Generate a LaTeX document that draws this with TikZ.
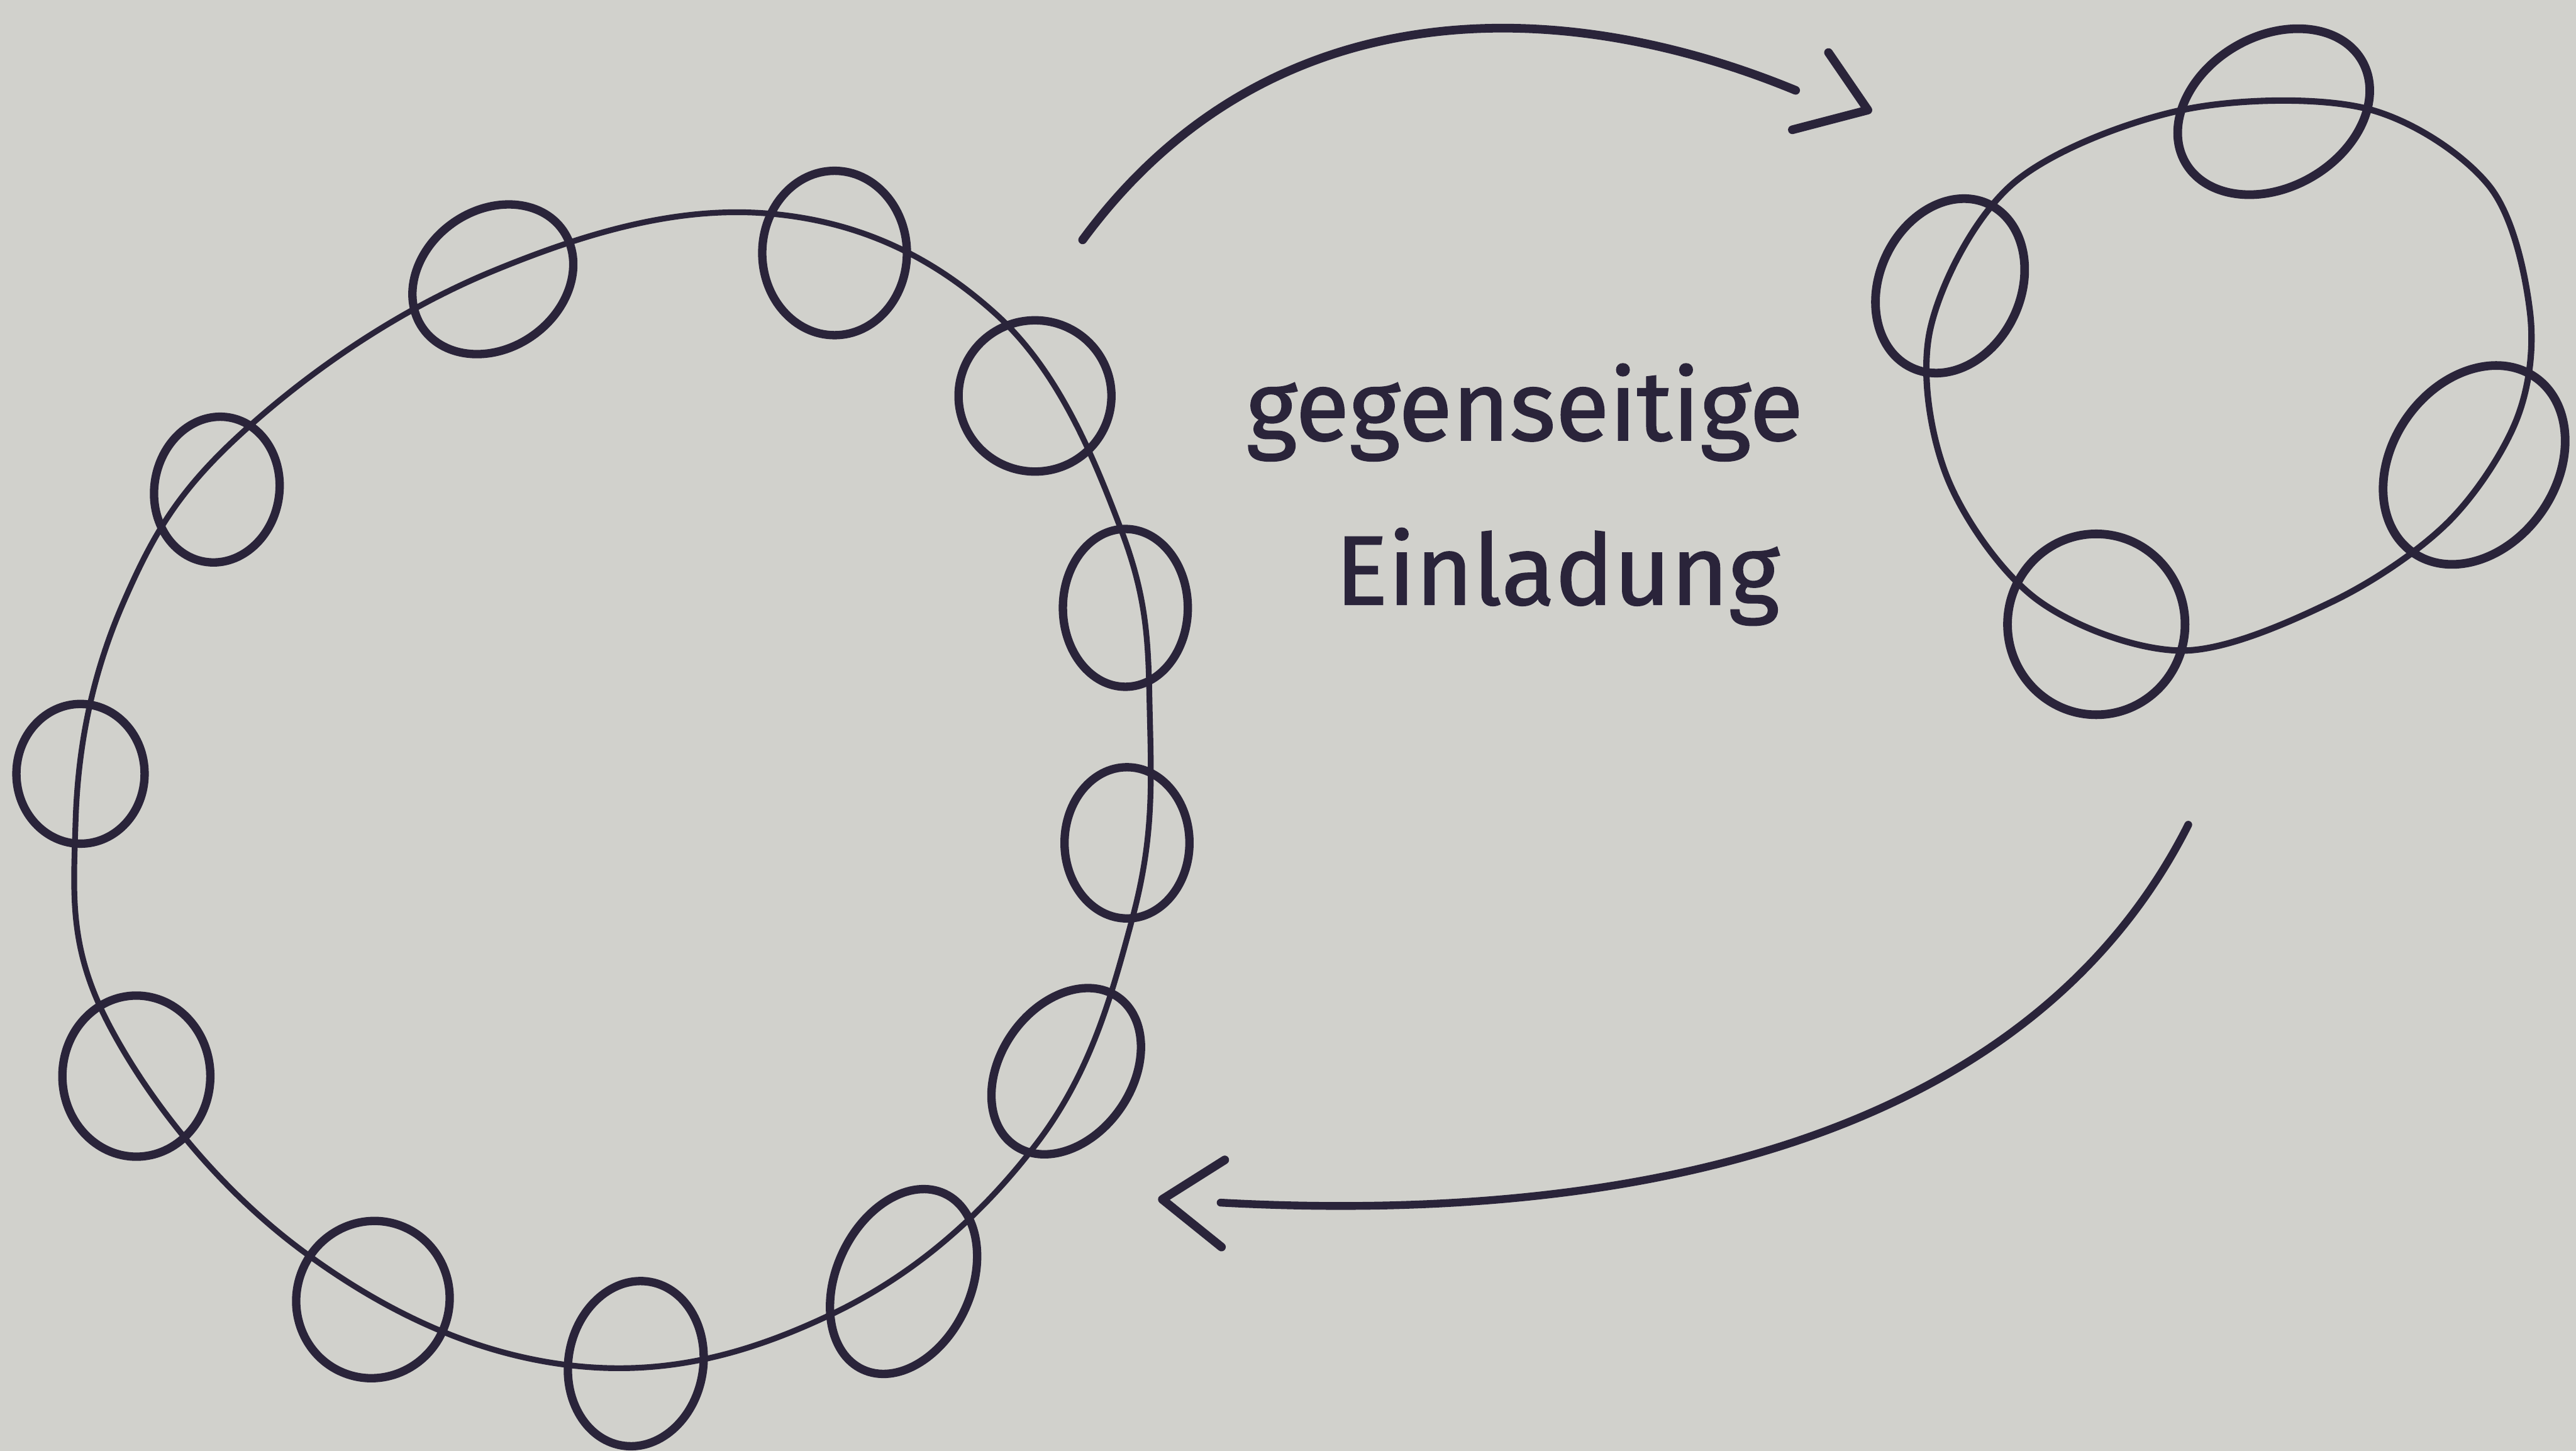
\documentclass[tikz,border=0pt]{standalone}
\usepackage{fontspec}
\setmainfont{Fira Sans}
\newfontfamily\handschrift{Fira Sans}[FakeBold=1.2]
\usetikzlibrary{shapes.geometric}
\definecolor{tinte}{RGB}{42,36,58}
\definecolor{papier}{RGB}{209,209,204}
\tikzset{
  person/.style={draw=tinte, ellipse, line width=1.45pt, inner sep=0pt},
  kreis/.style={draw=tinte, line width=1pt},
  pfeil/.style={draw=tinte, line width=1.5pt, line cap=round},
  spitze/.style={draw=tinte, line width=1.5pt, line cap=round, line join=round},
  schrift/.style={text=tinte, font=\handschrift\fontsize{17}{20}\selectfont, anchor=base, inner sep=0pt}
}
\begin{document}
\begin{tikzpicture}[x=0.01cm, y=-0.01cm]
    % Papier
    \fill[papier] (0,0) rectangle (1568,883);
    \useasboundingbox (0,0) rectangle (1568,883);

    % Grosse Gruppe
    \draw[kreis] plot[smooth cycle, tension=0.65] coordinates {
        (468,130) (606,191) (683,324) (700,440) (689,560) (631,696) (506,800)
        (347,831) (185,762) (67,625) (46,500) (75,367) (150,261) (300,165)};
    \foreach \n/\p/\w/\h/\r in {1/{300,170}/1.04/0.84/35, 2/{508,154}/0.88/1.00/0,
        3/{630,241}/0.93/0.92/0, 4/{685,370}/0.76/0.96/0, 5/{686,513}/0.76/0.92/0,
        6/{649,652}/0.80/1.10/-35, 7/{550,780}/0.82/1.18/-25, 8/{387,830}/0.82/1.01/-10,
        9/{227,791}/0.93/0.96/-20, 10/{83,655}/0.90/0.98/0, 11/{49,471}/0.78/0.85/0,
        12/{132,298}/0.76/0.89/-10} {
        \node[person, minimum width=\w cm, minimum height=\h cm, rotate=\r] (g\n) at (\p) {};
    }

    % Kleine Gruppe
    \draw[kreis, line width=1.1pt] plot[smooth cycle, tension=0.55] coordinates {
        (1328,67) (1440,66) (1515,113) (1540,190) (1532,255) (1490,318) (1420,366)
        (1328,396) (1240,365) (1185,290) (1175,200) (1225,112)};
    \foreach \n/\p/\w/\h/\r in {1/{1384,68}/1.24/0.92/30, 2/{1187,174}/0.86/1.10/-25,
        3/{1506,283}/1.00/1.30/-35, 4/{1276,380}/1.08/1.10/0} {
        \node[person, line width=1.5pt, minimum width=\w cm, minimum height=\h cm, rotate=\r] (k\n) at (\p) {};
    }

    % Einladung hin und zurueck
    \coordinate (hin-start) at (659,146);
    \coordinate (hin-ende) at (1093,55);
    \coordinate (hin-spitze) at (1137,67);
    \coordinate (rueck-start) at (1332,502);
    \coordinate (rueck-ende) at (743,732);
    \coordinate (rueck-spitze) at (707.5,730);
    \draw[pfeil] (hin-start) .. controls (770,-5) and (945,-6) .. (hin-ende);
    \draw[spitze] (hin-spitze) ++(-24,-35) -- (hin-spitze) -- ++(-46,12);
    \draw[pfeil, line width=1.35pt] (rueck-start) .. controls (1233,698) and (985,745) .. (rueck-ende);
    \draw[spitze] (rueck-spitze) ++(38,-24) -- (rueck-spitze) -- ++(36,29);

    % Text
    \node[schrift] (gegen) at (928,268) {gegenseitige};
    \node[schrift] (einl) at (948,368) {Einladung};
\end{tikzpicture}
\end{document}
